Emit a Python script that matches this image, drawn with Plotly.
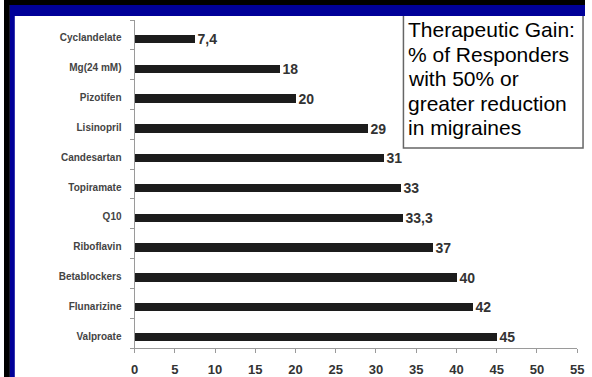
import plotly.graph_objects as go

# Therapeutic gain per prophylactic agent (% of responders)
drugs = ["Valproate", "Flunarizine", "Betablockers", "Riboflavin", "Q10",
         "Topiramate", "Candesartan", "Lisinopril", "Pizotifen", "Mg(24 mM)",
         "Cyclandelate"]
gain = [45, 42, 40, 37, 33.3, 33, 31, 29, 20, 18, 7.4]
gain_labels = ["45", "42", "40", "37", "33,3", "33", "31", "29", "20", "18", "7,4"]
x_ticks = list(range(0, 60, 5))

caption_lines = ["Therapeutic Gain:", "% of Responders", "with 50% or",
                 "greater reduction", "in migraines"]

W, H = 592, 377


def px(x):
    return x / W


def py(y):
    return 1 - y / H


BAR_W = 0.28
BAR_SHIFT = 0.134

fig = go.Figure(
    go.Bar(
        x=gain,
        y=drugs,
        orientation="h",
        width=BAR_W,
        offset=-BAR_W / 2 - BAR_SHIFT,
        marker=dict(color="#1c1c1c", line=dict(width=0)),
        text=gain_labels,
        textposition="outside",
        constraintext="none",
        cliponaxis=False,
        textfont=dict(family="Arial", size=14, color="#333333", weight="bold"),
        hoverinfo="skip",
    )
)

axis_grey = "#9a9a9a"

fig.update_layout(
    width=W,
    height=H,
    margin=dict(l=0, r=0, t=0, b=0),
    paper_bgcolor="white",
    plot_bgcolor="white",
    showlegend=False,
    bargap=0,
    xaxis=dict(
        domain=[px(133), px(584)],
        range=[0, 55],
        tickvals=x_ticks,
        ticktext=[str(v) for v in x_ticks],
        ticks="outside",
        ticklen=4,
        tickcolor=axis_grey,
        showline=True,
        linecolor=axis_grey,
        linewidth=1,
        showgrid=False,
        zeroline=False,
        ticklabelstandoff=5,
        tickfont=dict(family="Arial", size=13, color="#333333", weight="bold"),
        anchor="y",
    ),
    yaxis=dict(
        domain=[py(348), py(20)],
        type="category",
        categoryorder="array",
        categoryarray=drugs,
        range=[-0.5, 10.5],
        tickson="boundaries",
        ticks="outside",
        ticklen=4,
        tickcolor=axis_grey,
        showline=True,
        linecolor=axis_grey,
        linewidth=1,
        showgrid=False,
        zeroline=False,
        ticklabelshift=3,
        ticklabelstandoff=10,
        tickfont=dict(family="Arial", size=10, color="#444444", weight="bold"),
        anchor="x",
    ),
)

shapes = [
    # caption box
    dict(type="rect", xref="paper", yref="paper",
         x0=px(407), x1=px(590), y0=py(148), y1=py(12),
         line=dict(color="#666666", width=1.5), fillcolor="white"),
    # slide frame: dark outer strip and blue inner strip
    dict(type="rect", xref="paper", yref="paper",
         x0=0, x1=1, y0=py(5), y1=1,
         line=dict(width=0), fillcolor="#000000"),
    dict(type="rect", xref="paper", yref="paper",
         x0=0, x1=px(6), y0=0, y1=1,
         line=dict(width=0), fillcolor="#000000"),
    dict(type="rect", xref="paper", yref="paper",
         x0=px(6), x1=1, y0=py(16), y1=py(5),
         line=dict(width=0), fillcolor="#000099"),
    dict(type="rect", xref="paper", yref="paper",
         x0=px(6), x1=px(11), y0=0, y1=py(5),
         line=dict(width=0), fillcolor="#000099"),
]
fig.update_layout(shapes=shapes)

line_centres = [29.7, 54.2, 78.7, 103.2, 127.7]
for text, yc in zip(caption_lines, line_centres):
    fig.add_annotation(
        text=text,
        xref="paper", yref="paper",
        x=px(410), y=py(yc),
        xanchor="left", yanchor="middle",
        showarrow=False,
        font=dict(family="Arial", size=21, color="#000000"),
    )

fig.write_html("out.html")
